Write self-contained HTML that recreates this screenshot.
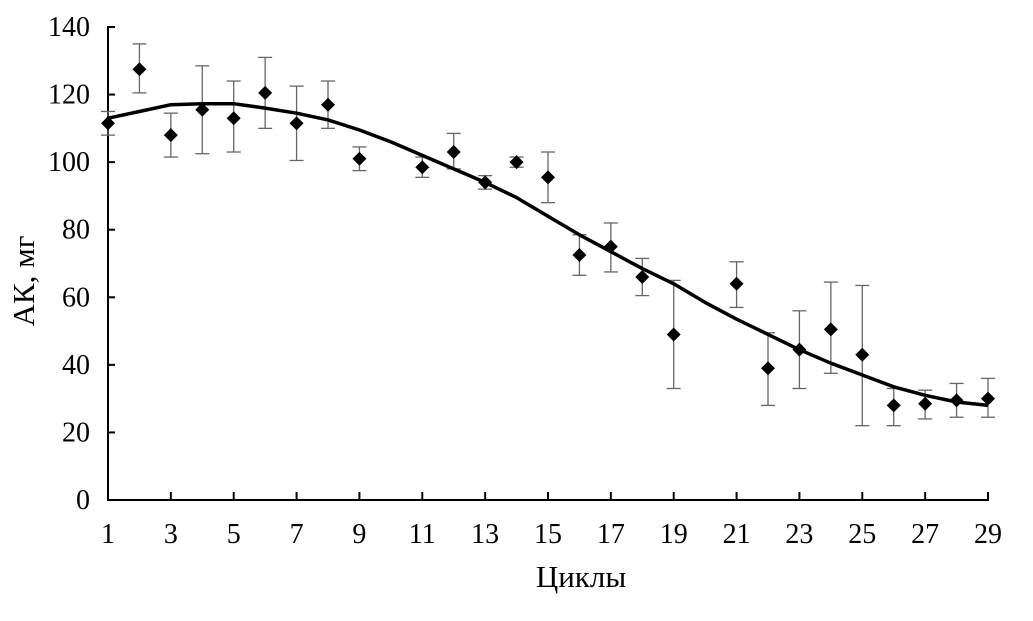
<!DOCTYPE html>
<html><head><meta charset="utf-8"><style>
html,body{margin:0;padding:0;background:#fff;}
svg text{font-family:"Liberation Serif",serif;fill:#000;}
</style></head><body>
<svg id="chart" width="1033" height="616" viewBox="0 0 1033 616" xmlns="http://www.w3.org/2000/svg">
<g id="axes"></g>
<g id="marks"></g>
<text x="0" y="0" font-size="31" text-anchor="middle" transform="translate(34,281) rotate(-90)">АК, мг</text>
<text x="581" y="587" font-size="31" text-anchor="middle">Циклы</text>
</svg>
<script>
const cycles = [1,2,3,4,5,6,7,8,9,11,12,13,14,15,16,17,18,19,21,22,23,24,25,26,27,28,29];
const means = [111.5,127.5,108,115.5,113,120.5,111.5,117,101,98.5,103,94,100,95.5,72.5,75,66,49,64,39,44.5,50.5,43,28,28.5,29.5,30];
const lows = [108,120.5,101.5,102.5,103,110,100.5,110,97.5,95.5,98,92,98.5,88,66.5,67.5,60.5,33,57,28,33,37.5,22,22,24,24.5,24.5];
const highs = [115,135,114.5,128.5,124,131,122.5,124,104.5,101.5,108.5,96,101.5,103,78.5,82,71.5,65,70.5,49.5,56,64.5,63.5,33,32.5,34.5,36];
const trendX = [1,2,3,4,5,6,7,8,9,10,11,12,13,14,15,16,17,18,19,20,21,22,23,24,25,26,27,28,29];
const trendY = [113,115,117,117.3,117.3,116,114.5,112.5,109.5,106,102,98,94,89.5,84,78.5,73.5,68.5,64,58.5,53.5,49,44.5,40.5,37,33.5,31,29,28];
const yTicks = [0,20,40,60,80,100,120,140];
const xTicks = [1,3,5,7,9,11,13,15,17,19,21,23,25,27,29];

const NS="http://www.w3.org/2000/svg";
const X=v=>108+(v-1)*(880/28);
const Y=v=>500-v*(473/140);
function mk(tag,attrs,parent,text){const e=document.createElementNS(NS,tag);for(const k in attrs)e.setAttribute(k,attrs[k]);if(text!==undefined)e.textContent=text;parent.appendChild(e);return e;}
const axes=document.getElementById('axes'), marks=document.getElementById('marks');
let e=mk('line',{x1:108,y1:500,x2:989,y2:500,stroke:'#000','stroke-width':2},axes);


e=mk('line',{x1:108,y1:Y(140)-1,x2:108,y2:501,stroke:'#000','stroke-width':2},axes);


yTicks.forEach(t=>{
  let l=mk('line',{x1:108,y1:Y(t),x2:115,y2:Y(t),stroke:'#000','stroke-width':2},axes);
  
  
  let tx=mk('text',{x:90,y:Y(t)+9,'font-size':28,'text-anchor':'end'},axes,String(t));
  
  
});
xTicks.forEach(t=>{
  let l=mk('line',{x1:X(t),y1:492,x2:X(t),y2:500,stroke:'#000','stroke-width':2},axes);
  
  
  let tx=mk('text',{x:X(t),y:543,'font-size':28,'text-anchor':'middle'},axes,String(t));
  
  
});
cycles.forEach((c,i)=>{
  const x=X(c);
  let g=mk('g',{stroke:'#666','stroke-width':1.3},marks);
  
  
  mk('line',{x1:x,y1:Y(lows[i]),x2:x,y2:Y(highs[i])},g);
  mk('line',{x1:x-7,y1:Y(lows[i]),x2:x+7,y2:Y(lows[i])},g);
  mk('line',{x1:x-7,y1:Y(highs[i]),x2:x+7,y2:Y(highs[i])},g);
});
let d=trendX.map((v,i)=>(i?'L':'M')+X(v).toFixed(1)+','+Y(trendY[i]).toFixed(1)).join(' ');
e=mk('path',{d:d,fill:'none',stroke:'#000','stroke-width':3.5,'stroke-linejoin':'round'},marks);


cycles.forEach((c,i)=>{
  const x=X(c),y=Y(means[i]),r=7;
  let p=mk('polygon',{points:`${x},${y-r} ${x+r},${y} ${x},${y+r} ${x-r},${y}`,fill:'#000'},marks);
  
  
});
</script>
</body></html>
